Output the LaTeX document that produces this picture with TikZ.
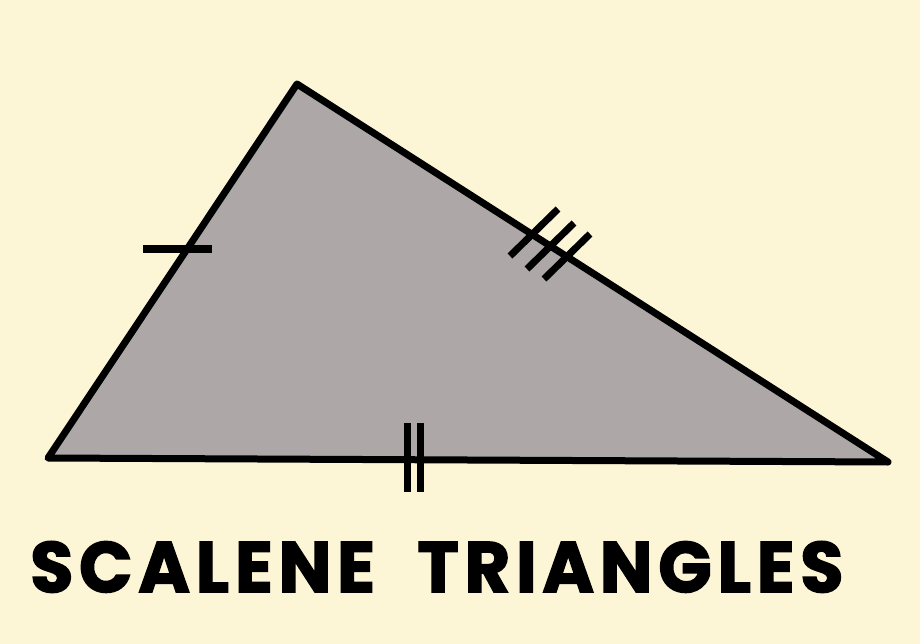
\documentclass[tikz,border=0pt]{standalone}
\usepackage{fontspec}
\newfontfamily\titlefont[LetterSpace=8,BoldFeatures={FakeBold=2}]{Poppins}
\definecolor{cream}{HTML}{FCF5D6}
\definecolor{trigray}{HTML}{ADA7A8}
\begin{document}
\begin{tikzpicture}[x=1pt,y=-1pt,
  edge/.style={line width=7pt,line join=round,line cap=round},
  tick/.style={line width=7pt}]
\fill[cream] (0,0) rectangle (920,644);
\useasboundingbox (0,0) rectangle (920,644);
\coordinate (A) at (297,84);
\coordinate (B) at (48,458);
\coordinate (C) at (888,462);
\filldraw[fill=trigray,edge] (A) -- (B) -- (C) -- cycle;
% single tick on left side
\coordinate (t1a) at (143,249);
\coordinate (t1b) at (212,249);
\draw[tick] (t1a) -- (t1b);
% double tick on bottom
\coordinate (t2a) at (407,423);
\coordinate (t2b) at (407,492);
\coordinate (t3a) at (420,423);
\coordinate (t3b) at (420,492);
\draw[tick] (t2a) -- (t2b);
\draw[tick] (t3a) -- (t3b);
% triple tick on hypotenuse
\coordinate (h1a) at (558,209);
\coordinate (h1b) at (510,256);
\coordinate (h2a) at (574,223);
\coordinate (h2b) at (527,269);
\coordinate (h3a) at (590,234);
\coordinate (h3b) at (544,279);
\draw[tick] (h1a) -- (h1b);
\draw[tick] (h2a) -- (h2b);
\draw[tick] (h3a) -- (h3b);
\node[anchor=north west,inner sep=0pt] (title) at (30,541)
  {\resizebox{813pt}{51pt}{\titlefont\bfseries SCALENE\hspace{0.6em}TRIANGLES}};
\end{tikzpicture}
\end{document}
